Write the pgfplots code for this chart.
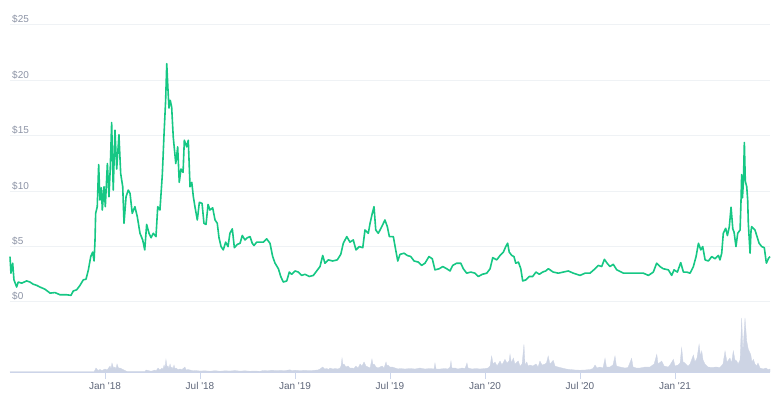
\documentclass[border=0pt]{standalone}
\usepackage{fontspec}
\setmainfont{Liberation Sans}
\usepackage{pgfplots}
\usepackage{pgfplotstable}
\pgfplotsset{compat=1.18}
\definecolor{pricegreen}{HTML}{16C784}
\definecolor{gridc}{HTML}{EFF2F5}
\definecolor{volc}{HTML}{CDD4E4}
\definecolor{ylabc}{HTML}{8C93A5}
\definecolor{xlabc}{HTML}{5E6679}
\definecolor{tickc}{HTML}{CCD6EB}

% price: x = months since Jan 2018, y = USD
\pgfplotstableread{
m p
-6.00 4.1
-5.94 2.6
-5.83 3.5
-5.75 2.0
-5.58 1.35
-5.48 1.8
-5.26 1.7
-4.95 1.9
-4.74 1.8
-4.53 1.6
-4.31 1.5
-4.11 1.35
-3.79 1.15
-3.47 0.8
-3.16 0.85
-2.84 0.65
-2.42 0.65
-2.15 0.6
-2.00 1.0
-1.79 1.1
-1.58 1.5
-1.37 2.0
-1.20 2.05
-1.05 2.9
-0.90 4.1
-0.78 4.5
-0.69 3.7
-0.63 5.6
-0.59 8.0
-0.49 8.6
-0.40 12.4
-0.32 9.2
-0.23 10.3
-0.17 8.3
-0.06 10.4
0.02 8.6
0.15 12.5
0.25 9.5
0.33 12.0
0.42 16.2
0.52 10.1
0.63 15.5
0.74 12.0
0.88 15.1
0.99 11.6
1.12 10.4
1.20 7.1
1.33 9.5
1.47 10.1
1.58 9.8
1.72 8.0
1.89 8.6
2.04 7.7
2.21 6.2
2.38 5.6
2.51 4.7
2.63 7.0
2.78 6.2
2.91 5.8
3.05 6.2
3.22 5.9
3.33 8.6
3.47 8.3
3.62 11.5
3.73 15.2
3.83 18.2
3.90 21.5
3.98 19.1
4.04 17.5
4.12 18.2
4.21 17.6
4.31 14.9
4.47 12.5
4.59 14.0
4.69 10.8
4.80 12.0
4.93 11.7
5.01 14.6
5.16 14.0
5.26 14.6
5.37 10.4
5.48 10.8
5.58 9.5
5.68 8.6
5.83 7.4
5.96 9.0
6.13 8.9
6.25 7.1
6.38 7.0
6.51 8.8
6.63 8.3
6.80 8.5
6.95 7.4
7.09 7.1
7.20 5.8
7.33 5.0
7.47 4.7
7.62 5.4
7.77 5.0
7.89 6.2
8.04 6.6
8.17 4.9
8.36 5.2
8.53 5.3
8.67 6.0
8.84 5.6
8.99 5.8
9.16 5.9
9.30 5.3
9.41 5.1
9.58 5.4
10.00 5.4
10.21 5.7
10.42 5.3
10.59 4.1
10.74 3.5
10.95 3.0
11.10 2.3
11.26 1.8
11.48 1.9
11.64 2.7
11.79 2.5
12.00 2.8
12.21 2.7
12.42 2.4
12.63 2.5
12.90 2.3
13.16 2.4
13.37 2.8
13.58 3.2
13.75 4.2
13.89 3.5
14.10 3.8
14.38 3.7
14.67 3.8
14.89 4.3
15.05 5.3
15.27 5.9
15.47 5.4
15.68 5.6
15.85 4.7
16.06 5.0
16.28 4.9
16.42 6.5
16.63 6.2
16.74 7.1
16.88 8.0
16.99 8.6
17.10 6.5
17.26 6.2
17.48 6.8
17.68 7.4
17.83 6.8
17.96 5.9
18.21 5.9
18.36 4.7
18.49 3.7
18.63 4.3
18.89 4.4
19.09 4.2
19.31 4.1
19.52 3.7
19.79 3.6
20.00 3.3
20.21 3.5
20.46 4.1
20.67 3.9
20.84 2.9
21.11 3.0
21.33 3.2
21.58 3.0
21.79 2.8
21.96 3.3
22.21 3.5
22.47 3.5
22.63 3.0
22.84 2.6
23.10 2.7
23.37 2.6
23.58 2.3
23.83 2.5
24.11 2.6
24.32 3.0
24.49 4.0
24.74 3.8
24.95 4.2
25.16 4.5
25.31 5.0
25.43 5.3
25.53 4.5
25.69 4.2
25.83 4.1
25.94 3.5
26.11 3.6
26.26 3.0
26.38 1.9
26.59 2.0
26.80 2.3
27.01 2.3
27.22 2.7
27.43 2.5
27.64 2.7
27.83 2.8
28.00 3.0
28.31 2.7
28.63 2.6
28.95 2.7
29.26 2.8
29.58 2.6
30.00 2.4
30.32 2.6
30.63 2.6
30.95 3.0
31.16 3.3
31.37 3.2
31.54 3.85
31.71 3.5
31.89 3.2
32.10 3.4
32.32 2.9
32.74 2.6
33.16 2.6
33.58 2.6
34.00 2.6
34.32 2.4
34.63 2.7
34.84 3.5
35.05 3.2
35.26 3.0
35.58 2.9
35.79 2.4
35.94 2.9
36.15 2.7
36.36 3.55
36.53 2.7
36.74 2.7
36.95 2.6
37.16 3.2
37.33 4.1
37.48 5.3
37.63 4.7
37.75 5.0
37.90 3.8
38.11 3.7
38.32 4.1
38.53 3.9
38.74 4.2
38.84 3.8
38.95 4.4
39.05 6.2
39.20 6.65
39.31 6.0
39.43 6.8
39.54 8.55
39.65 6.6
39.73 6.3
39.85 5.0
39.96 6.2
40.11 6.5
40.17 9.2
40.21 11.5
40.26 9.4
40.32 10.9
40.38 14.4
40.44 10.9
40.53 10.4
40.59 9.2
40.63 7.1
40.74 4.4
40.80 6.4
40.84 6.8
40.95 6.65
41.05 6.5
41.16 6.0
41.31 5.3
41.48 5.0
41.64 4.9
41.77 3.5
41.91 3.95
42.00 4.1
}\pricetable

% volume (relative units)
\pgfplotstableread{
m v
-6.00 0.3
-0.69 0.3
-0.63 2
-0.57 4
-0.44 1.5
-0.32 2.5
-0.19 1.5
0.00 3
0.13 2
0.32 6
0.38 3
0.44 9
0.54 4
0.63 5
0.69 3
0.76 8
0.85 4
0.95 4
1.07 3
1.26 1.5
1.39 0.5
2.53 0.5
2.59 2
2.72 1.5
2.84 1
2.97 1
3.16 2
3.22 1
3.35 4
3.47 2
3.60 4
3.66 2.5
3.73 7
3.79 4
3.85 12.7
3.92 5
3.98 6
4.04 3.5
4.11 8
4.17 4
4.23 5
4.29 3
4.36 7
4.42 3
4.48 4
4.61 2.5
4.74 3
4.86 2.5
5.05 5
5.12 2
5.24 2.5
5.37 2
5.56 1.2
5.68 1.5
6.00 1
6.32 1.2
6.63 0.8
6.95 1.3
7.26 0.8
7.58 1.2
7.89 1
8.21 1.4
8.53 0.9
8.84 1.2
9.16 0.8
9.47 1
9.79 0.7
9.98 1.5
10.29 1.2
10.55 1.8
10.80 1.3
11.05 1.6
11.37 1.4
11.68 2.2
11.81 1.4
12.00 1.8
12.32 1.4
12.63 1.7
12.95 1.3
13.26 1.8
13.45 2
13.58 3
13.75 5
13.87 3
14.00 3.5
14.13 2.5
14.21 4
14.40 3
14.53 3.5
14.72 3
14.84 4
14.91 6
14.97 14
15.03 7
15.09 8
15.22 5
15.35 6
15.47 4
15.60 4
15.72 3.5
15.85 6
15.98 4
16.11 8
16.23 6
16.36 10
16.48 6
16.61 5
16.74 4
16.86 13
16.93 7
16.99 8
17.12 5
17.24 4
17.37 5
17.50 6
17.62 4
17.75 10
17.81 6
17.87 7
18.00 5
18.13 5
18.32 4
18.51 3
18.63 3.5
18.95 3
19.26 3.5
19.58 3
19.89 4
20.21 3
20.53 3.5
20.78 3
20.84 9
20.91 3
21.16 3
21.47 3.5
21.66 3
21.79 5
21.85 11
21.91 4
22.11 4
22.29 3
22.55 4
22.74 3.5
22.86 9
22.93 4
23.18 3
23.43 3.5
23.68 3
24.00 3.5
24.19 4
24.32 6
24.42 16
24.51 8
24.63 10
24.76 6
24.95 11
25.07 7
25.26 12.7
25.39 9
25.52 11
25.58 17.7
25.67 9
25.79 14
25.89 8
26.10 11
26.21 6
26.34 8
26.46 27.7
26.53 7
26.64 10
26.72 6
26.84 7
27.03 6
27.22 8
27.35 5
27.47 11
27.60 7
27.79 8
27.88 9
27.99 16
28.10 8
28.31 11.7
28.42 6
28.61 5
28.86 4
29.12 3
29.37 2.5
29.69 2
30.00 1.8
30.32 2
30.63 2.5
30.82 3.5
30.95 7
31.07 4
31.26 5
31.45 4
31.58 13.7
31.67 5
31.89 5
32.08 7
32.21 16
32.30 6
32.53 5
32.84 4
33.03 4.5
33.26 13.7
33.35 5
33.54 4
33.79 4
34.11 5
34.42 5
34.68 8
34.85 17.7
34.93 8
35.16 11
35.31 6
35.56 5
35.68 7
35.90 12.7
36.00 6
36.19 7
36.32 9
36.42 24.3
36.51 10
36.63 9
36.82 6
36.95 8
37.16 17
37.26 10
37.39 14
37.52 27.7
37.61 16
37.69 21
37.77 12
37.90 7.7
38.08 5
38.34 4.5
38.59 5
38.84 4.5
39.03 8
39.16 21
39.28 10
39.47 14
39.57 9
39.68 21
39.79 12
39.90 11
39.98 8
40.11 12
40.21 54
40.29 20
40.42 54
40.53 31
40.63 22.7
40.78 17.7
40.86 10
40.95 12.7
41.05 8
41.16 6
41.24 9
41.37 4
41.56 3
41.75 4
41.87 2.5
42.00 3
}\voltable

\begin{document}
\begin{tikzpicture}[x=1bp,y=1bp]
\useasboundingbox (0,0) rectangle (775,399);
% volume axis
\begin{axis}[
  at={(10bp,27bp)}, anchor=south west, scale only axis,
  width=760bp, height=347bp,
  xmin=-6, xmax=42, ymin=0, ymax=347,
  axis x line*=bottom, axis y line=none,
  x axis line style={draw=tickc, -, line width=0.8bp},
  xtick={0,6,12,18,24,30,36},
  xticklabels={Jan \textquotesingle18, Jul \textquotesingle18, Jan \textquotesingle19, Jul \textquotesingle19, Jan \textquotesingle20, Jul \textquotesingle20, Jan \textquotesingle21},
  tick align=outside, major tick length=7bp,
  xtick style={draw=tickc, line width=0.8bp},
  xticklabel style={font=\fontsize{10bp}{12bp}\selectfont, text=xlabc, inner sep=0pt, anchor=north, yshift=-3bp},
  clip=false]
\addplot[fill=volc, draw=volc, line width=0.3bp] table[x=m, y=v] {\voltable} \closedcycle;
\end{axis}
% price axis
\begin{axis}[
  at={(10bp,27bp)}, anchor=south west, scale only axis,
  width=760bp, height=347bp,
  xmin=-6, xmax=42, ymin=-6.32, ymax=25,
  axis line style={draw=none},
  xtick=\empty,
  ytick={0,5,10,15,20,25},
  yticklabels={\$0,\$5,\$10,\$15,\$20,\$25},
  ymajorgrids, grid style={draw=gridc, line width=1bp},
  major tick length=0pt,
  yticklabel style={font=\fontsize{10bp}{12bp}\selectfont, text=ylabc, inner sep=0pt, anchor=base west, xshift=2bp, yshift=2bp},
  clip=false]
\addplot[pricegreen, line width=1.6bp, line join=round] table[x=m, y=p] {\pricetable};
\end{axis}
\end{tikzpicture}
\end{document}
